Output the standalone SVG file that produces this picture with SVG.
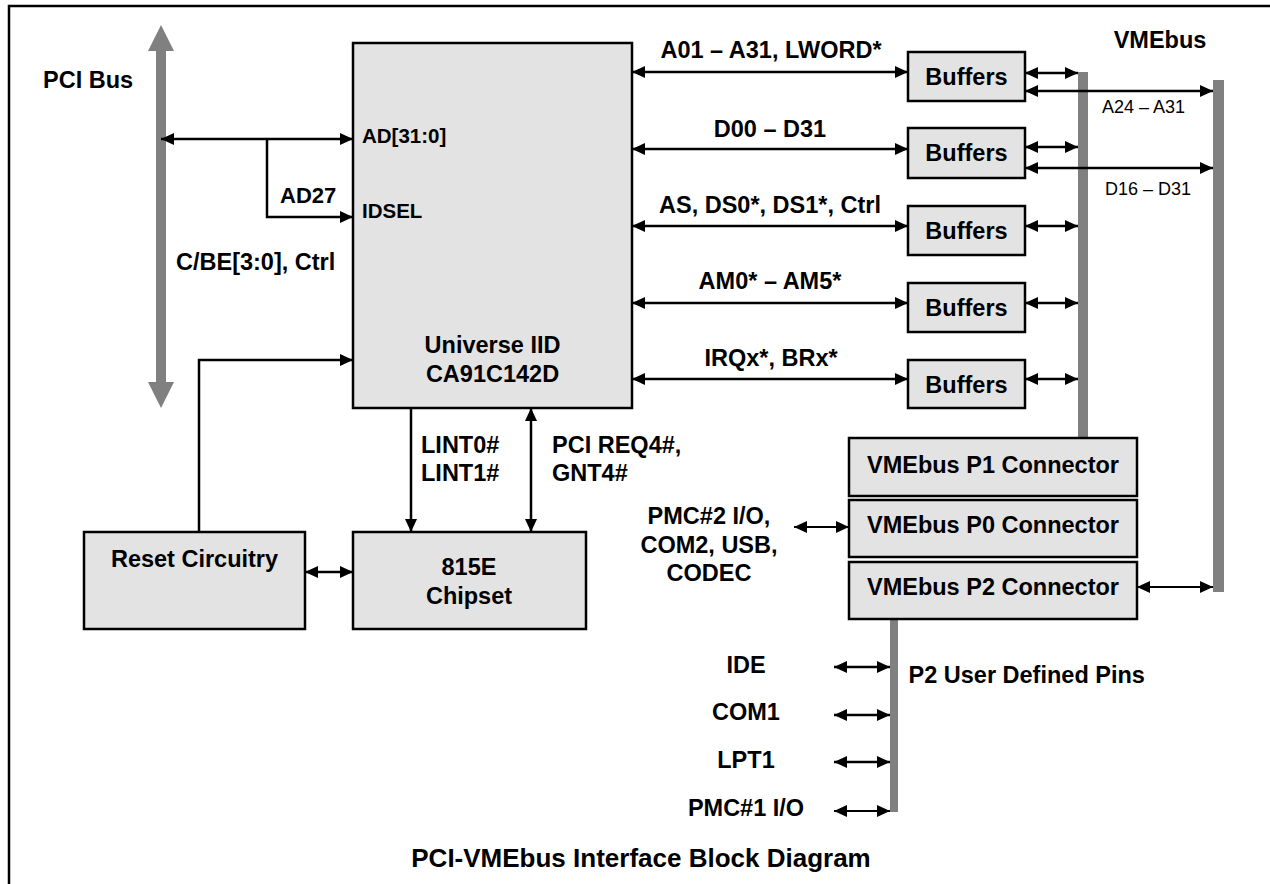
<svg xmlns="http://www.w3.org/2000/svg" width="1270" height="884" viewBox="0 0 1270 884">
<defs>
<style>
.t{font-family:"Liberation Sans",Arial,sans-serif;font-weight:bold;font-size:23.5px;fill:#000}
.s{font-family:"Liberation Sans",Arial,sans-serif;font-size:18px;fill:#000}
.m{text-anchor:middle}
.box{fill:#e3e3e3;stroke:#000;stroke-width:2.5}
.w{fill:none;stroke:#000;stroke-width:2.5}
.w2{fill:none;stroke:#000;stroke-width:2}
.bar{fill:#808080}
</style>
<marker id="ah" markerUnits="userSpaceOnUse" markerWidth="14" markerHeight="13" refX="13" refY="6" orient="auto-start-reverse">
<path d="M0,0 L13,6 L0,12 z" fill="#000"/>
</marker>
</defs>
<rect width="1270" height="884" fill="#fff"/>
<path d="M9,884 V6 H1270" fill="none" stroke="#000" stroke-width="2.5"/>

<g id="buses">
<path class="bar" d="M161,25 L174,51 L166,51 L166,382 L174,382 L161,408 L148,382 L156,382 L156,51 L148,51 z"/>
<rect class="bar" x="1078" y="72" width="10" height="366"/>
<rect class="bar" x="1213" y="80" width="11" height="512"/>
<rect class="bar" x="890" y="619" width="8" height="193"/>
</g>

<g id="connectors">
<line class="w" x1="161" y1="139" x2="353" y2="139" marker-start="url(#ah)" marker-end="url(#ah)"/>
<polyline class="w" points="267,139 267,217 353,217" marker-end="url(#ah)"/>
<polyline class="w" points="199,532 199,360 353,360" marker-end="url(#ah)"/>
<line class="w" x1="411" y1="408" x2="411" y2="532" marker-end="url(#ah)"/>
<line class="w" x1="531" y1="408" x2="531" y2="532" marker-start="url(#ah)" marker-end="url(#ah)"/>
<line class="w" x1="305" y1="572" x2="353" y2="572" marker-start="url(#ah)" marker-end="url(#ah)"/>

<line class="w" x1="632" y1="72" x2="908" y2="72" marker-start="url(#ah)" marker-end="url(#ah)"/>
<line class="w" x1="632" y1="149" x2="908" y2="149" marker-start="url(#ah)" marker-end="url(#ah)"/>
<line class="w" x1="632" y1="226" x2="908" y2="226" marker-start="url(#ah)" marker-end="url(#ah)"/>
<line class="w" x1="632" y1="303" x2="908" y2="303" marker-start="url(#ah)" marker-end="url(#ah)"/>
<line class="w" x1="632" y1="379" x2="908" y2="379" marker-start="url(#ah)" marker-end="url(#ah)"/>

<line class="w" x1="1025" y1="73" x2="1078" y2="73" marker-start="url(#ah)" marker-end="url(#ah)"/>
<line class="w" x1="1025" y1="147" x2="1078" y2="147" marker-start="url(#ah)" marker-end="url(#ah)"/>
<line class="w" x1="1025" y1="226" x2="1078" y2="226" marker-start="url(#ah)" marker-end="url(#ah)"/>
<line class="w" x1="1025" y1="303" x2="1078" y2="303" marker-start="url(#ah)" marker-end="url(#ah)"/>
<line class="w" x1="1025" y1="379" x2="1078" y2="379" marker-start="url(#ah)" marker-end="url(#ah)"/>

<line class="w" x1="1025" y1="91" x2="1213" y2="91" marker-start="url(#ah)" marker-end="url(#ah)"/>
<line class="w" x1="1025" y1="168" x2="1213" y2="168" marker-start="url(#ah)" marker-end="url(#ah)"/>

<line class="w2" x1="1137" y1="587" x2="1213" y2="587" marker-start="url(#ah)" marker-end="url(#ah)"/>
<line class="w2" x1="794" y1="527" x2="849" y2="527" marker-start="url(#ah)" marker-end="url(#ah)"/>

<line class="w" x1="834" y1="667" x2="890" y2="667" marker-start="url(#ah)" marker-end="url(#ah)"/>
<line class="w" x1="834" y1="715" x2="890" y2="715" marker-start="url(#ah)" marker-end="url(#ah)"/>
<line class="w" x1="834" y1="762" x2="890" y2="762" marker-start="url(#ah)" marker-end="url(#ah)"/>
<line class="w2" x1="834" y1="811" x2="890" y2="811" marker-start="url(#ah)" marker-end="url(#ah)"/>
</g>

<g id="universe">
<rect class="box" x="353" y="43" width="279" height="365"/>
<text class="t m" x="492.5" y="353">Universe IID</text>
<text class="t m" x="492.5" y="382">CA91C142D</text>
</g>
<g id="reset">
<rect class="box" x="84" y="532" width="221" height="97"/>
<text class="t m" x="194.5" y="567">Reset Circuitry</text>
</g>
<g id="chipset">
<rect class="box" x="353" y="532" width="233" height="97"/>
<text class="t m" x="469" y="575">815E</text>
<text class="t m" x="469" y="604">Chipset</text>
</g>
<g id="buf1"><rect class="box" x="908" y="52" width="117" height="49"/><text class="t m" x="966.5" y="85">Buffers</text></g>
<g id="buf2"><rect class="box" x="908" y="128" width="117" height="50"/><text class="t m" x="966.5" y="161">Buffers</text></g>
<g id="buf3"><rect class="box" x="908" y="206" width="117" height="49"/><text class="t m" x="966.5" y="239">Buffers</text></g>
<g id="buf4"><rect class="box" x="908" y="283" width="117" height="49"/><text class="t m" x="966.5" y="316">Buffers</text></g>
<g id="buf5"><rect class="box" x="908" y="360" width="117" height="48"/><text class="t m" x="966.5" y="393">Buffers</text></g>
<g id="p1"><rect class="box" x="849" y="438" width="288" height="58"/><text class="t m" x="993" y="473">VMEbus P1 Connector</text></g>
<g id="p0"><rect class="box" x="849" y="500" width="288" height="57"/><text class="t m" x="993" y="533">VMEbus P0 Connector</text></g>
<g id="p2"><rect class="box" x="849" y="562" width="288" height="57"/><text class="t m" x="993" y="595">VMEbus P2 Connector</text></g>

<g id="labels">
<text class="t" x="43" y="88">PCI Bus</text>
<text class="t" x="362" y="143" style="font-size:20.5px">AD[31:0]</text>
<text class="t" x="280" y="203" style="font-size:22px">AD27</text>
<text class="t" x="362" y="218" style="font-size:20.5px">IDSEL</text>
<text class="t" x="176" y="270">C/BE[3:0], Ctrl</text>
<text class="t" x="421" y="453">LINT0#</text>
<text class="t" x="421" y="481">LINT1#</text>
<text class="t" x="552" y="453">PCI REQ4#,</text>
<text class="t" x="552" y="481">GNT4#</text>
<text class="t m" x="771" y="58">A01 – A31, LWORD*</text>
<text class="t m" x="770" y="137">D00 – D31</text>
<text class="t m" x="770" y="213">AS, DS0*, DS1*, Ctrl</text>
<text class="t m" x="770" y="289">AM0* – AM5*</text>
<text class="t m" x="771" y="366">IRQx*, BRx*</text>
<text class="t m" x="1160" y="48">VMEbus</text>
<text class="s" x="1102" y="113">A24 – A31</text>
<text class="s" x="1105" y="195">D16 – D31</text>
<text class="t m" x="709" y="524">PMC#2 I/O,</text>
<text class="t m" x="709" y="553">COM2, USB,</text>
<text class="t m" x="709" y="581">CODEC</text>
<text class="t m" x="746" y="673">IDE</text>
<text class="t m" x="746" y="720">COM1</text>
<text class="t m" x="746" y="768">LPT1</text>
<text class="t m" x="746" y="816">PMC#1 I/O</text>
<text class="t" x="908.5" y="683">P2 User Defined Pins</text>
<text class="t m" x="641" y="867" style="font-size:26px">PCI-VMEbus Interface Block Diagram</text>
</g>
</svg>
